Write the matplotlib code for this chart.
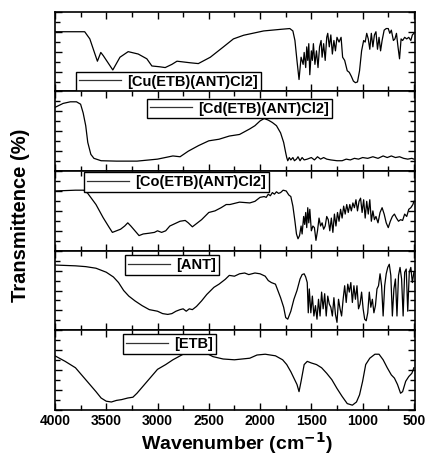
import matplotlib
matplotlib.use("Agg")
import matplotlib.pyplot as plt
from matplotlib.ticker import MultipleLocator

plt.rcParams['font.family'] = ['Liberation Sans', 'DejaVu Sans']
plt.rcParams['font.weight'] = 'bold'

# Spectra (wavenumber cm-1, transmittance in arbitrary panel units)
cu_wn = [4000, 3710, 3660, 3610, 3586, 3553, 3529, 3436, 3366, 3286, 3188, 3104, 3055, 2980, 2925,
         2860, 2810, 2680, 2602, 2485, 2357, 2260, 2160, 1965, 1800, 1710, 1680, 1660, 1640, 1620,
         1600, 1580, 1570, 1555, 1545, 1535, 1525, 1515, 1500, 1490, 1480, 1465, 1450, 1435, 1420,
         1405, 1395, 1380, 1365, 1350, 1340, 1325, 1310, 1295, 1280, 1265, 1250, 1230, 1210, 1195,
         1175, 1150, 1130, 1110, 1090, 1070, 1050, 1030, 1010, 990, 975, 960, 945, 930, 915, 900,
         885, 870, 855, 840, 825, 810, 790, 770, 750, 735, 720, 700, 685, 670, 655, 640, 625, 610,
         590, 570, 550, 530, 515, 500]
cu_t = [75, 75, 66, 47, 38, 49, 45, 27, 43, 50, 47, 41, 32, 31, 30,
        34, 38, 36, 35, 43, 56, 66, 70.6, 76, 78, 79, 76, 64, 38.6, 15,
        43, 34, 49, 30, 56, 39, 60, 21, 51, 39, 60, 34, 51, 30, 56,
        64, 43, 60, 39, 68, 73, 56, 71, 47, 64, 51, 68, 62, 68, 43,
        39, 26, 24, 19, 13, 11, 12, 26, 51, 64, 62, 73, 66, 53, 73, 56,
        71, 75, 53, 68, 51, 64, 77, 79, 79, 73, 77, 64, 66, 73, 56, 41, 66, 64,
        68, 66, 68, 64, 71, 73]

cd_wn = [4000, 3920, 3850, 3790, 3750, 3725, 3700, 3680, 3650, 3620, 3550, 3400, 3200, 3000, 2850,
         2780, 2700, 2600, 2500, 2400, 2300, 2200, 2100, 2050, 2000, 1960, 1920, 1880, 1840, 1800,
         1770, 1750, 1740, 1730, 1715, 1700, 1680, 1665, 1645, 1630, 1610, 1590, 1570, 1540, 1500,
         1470, 1440, 1410, 1380, 1350, 1310, 1250, 1200, 1160, 1120, 1080, 1040, 1000, 950, 900,
         850, 800, 760, 720, 680, 640, 600, 560, 520, 500]
cd_t = [80, 85, 87, 87, 84, 73, 57, 36, 21, 16, 13, 12.5, 12.5, 15, 19,
        18, 25, 32, 38, 40, 44, 46, 53, 57, 63, 66, 64, 61, 57, 48,
        36, 23, 17, 13, 17, 14, 17, 13, 15, 18, 13, 17, 14, 15, 17,
        14, 18, 15, 17, 15, 14, 13, 13, 15, 14, 16, 15, 17, 16, 18,
        16, 19, 17, 19, 17, 18, 16, 15, 16, 15]

co_wn = [4000, 3800, 3720, 3680, 3600, 3530, 3470, 3440, 3400, 3360, 3320, 3290, 3260, 3220, 3180,
         3140, 3080, 3030, 3000, 2960, 2920, 2880, 2830, 2780, 2730, 2700, 2660, 2620, 2570, 2500,
         2440, 2380, 2330, 2294, 2200, 2100, 2050, 2000, 1960, 1940, 1920, 1900, 1880, 1860, 1840,
         1820, 1800, 1775, 1745, 1720, 1700, 1680, 1660, 1645, 1630, 1615, 1600, 1590, 1575, 1565,
         1555, 1545, 1535, 1525, 1515, 1500, 1485, 1470, 1455, 1440, 1425, 1410, 1395, 1380, 1365,
         1350, 1335, 1320, 1305, 1290, 1275, 1260, 1245, 1230, 1215, 1200, 1185, 1170, 1155, 1140,
         1125, 1110, 1095, 1080, 1065, 1050, 1035, 1020, 1005, 990, 975, 960, 945, 930, 915,
         900, 885, 870, 850, 830, 810, 790, 770, 750, 730, 710, 690, 670, 650, 630,
         610, 590, 570, 550, 530, 510, 500]
co_t = [75, 76, 76, 72, 58, 41.5, 29, 23, 25, 27, 31, 35, 31, 25, 19,
        21, 22, 23, 25, 23, 25, 31, 34, 37, 38, 35, 30, 34, 39, 48,
        50, 54, 58, 58, 61, 60, 62, 67, 68, 67, 71, 69, 73, 71, 74,
        72, 73, 76, 75, 70, 68, 56, 37, 21, 15, 19, 31, 21, 43, 33,
        48, 29, 54, 35, 52, 25, 31, 29, 13, 25, 41, 31, 35, 27, 31,
        43, 39, 25, 41, 23, 46, 31, 48, 37, 52, 41, 56, 46, 58, 48,
        58, 50, 60, 54, 64, 50, 62, 66, 48, 64, 41, 62, 46, 64, 37,
        50, 39, 43, 35, 48, 54, 46, 35, 29, 37, 43, 46, 41, 37, 39,
        38, 46, 43, 52, 54, 58, 62]

ant_wn = [4000, 3800, 3700, 3600, 3500, 3430, 3380, 3330, 3280, 3220, 3150, 3080, 3000, 2950, 2900,
          2860, 2820, 2780, 2750, 2720, 2690, 2660, 2620, 2570, 2520, 2450, 2400, 2340, 2300, 2250,
          2200, 2150, 2110, 2080, 2050, 2000, 1950, 1920, 1890, 1850, 1800, 1770, 1750, 1730, 1700,
          1670, 1640, 1610, 1590, 1570, 1555, 1540, 1530, 1520, 1505, 1490, 1475, 1460, 1445, 1430,
          1415, 1400, 1385, 1370, 1355, 1340, 1325, 1310, 1295, 1280, 1265, 1250, 1235, 1220, 1205,
          1190, 1175, 1160, 1145, 1130, 1115, 1100, 1085, 1070, 1055, 1040, 1025, 1010, 995, 980,
          965, 950, 935, 920, 905, 890, 875, 860, 845, 830, 815, 800, 785, 770, 755,
          740, 725, 710, 695, 680, 665, 650, 635, 620, 605, 590, 575, 560, 545, 530,
          515, 500]
ant_t = [82, 81, 80, 78, 73, 67, 60, 50, 43, 37, 31, 26, 24, 21, 20,
         21, 24, 26, 27, 24, 27, 26, 30, 37, 45, 54, 58, 64, 69, 68,
         71, 72, 70, 71, 72, 71, 68, 62.5, 60, 58, 41, 29, 16, 14, 24,
         39, 50, 64.5, 70, 71, 67, 60, 22, 52, 22, 43, 18, 31, 14, 39,
         18, 48, 27, 46, 18, 43, 33, 29, 18, 41, 20, 10, 39, 27, 18,
         39, 56, 35, 58, 48, 60, 35, 56, 39, 56, 27, 33, 48, 27, 14,
         12, 22, 48, 29, 39, 22, 31, 52, 56, 71, 56, 18, 56, 71, 79,
         83, 69, 18, 52, 64.5, 18, 69, 79, 64.5, 18, 73, 77, 24, 73, 79,
         60, 73]

etb_wn = [4000, 3900, 3800, 3700, 3600, 3550, 3500, 3450, 3400, 3350, 3290, 3240, 3200, 3100, 3000,
          2920, 2850, 2750, 2650, 2550, 2460, 2360, 2250, 2100, 2030, 1950, 1850, 1780, 1740, 1700,
          1670, 1640, 1620, 1600, 1570, 1540, 1500, 1450, 1400, 1350, 1300, 1250, 1200, 1150, 1100,
          1060, 1030, 1000, 970, 930, 880, 840, 800, 760, 720, 690, 660, 630, 610, 580,
          550, 520, 500]
etb_t = [68, 61, 53, 38, 23, 15, 11, 10, 12, 13, 15, 16, 21, 36, 51,
         57, 63, 70, 72, 73, 67, 64, 63, 65, 69, 70, 68, 63, 57, 48,
         40, 32, 23, 36, 57, 61, 59, 57, 53, 46, 38, 27, 17, 8, 6,
         10, 19, 36, 57, 65, 70, 70, 63, 53, 44, 40, 32, 21, 23, 36,
         42, 46, 53]

panels = [
    (cu_wn, cu_t, '[Cu(ETB)(ANT)Cl2]', 'lower left', (0.058, 0.0)),
    (cd_wn, cd_t, '[Cd(ETB)(ANT)Cl2]', 'upper left', (0.256, 0.91)),
    (co_wn, co_t, '[Co(ETB)(ANT)Cl2]', 'upper left', (0.08, 0.99)),
    (ant_wn, ant_t, '[ANT]', 'upper left', (0.194, 0.94)),
    (etb_wn, etb_t, '[ETB]', 'upper left', (0.189, 0.95)),
]

fig = plt.figure(figsize=(4.26, 4.55), dpi=100)
gs = fig.add_gridspec(5, 1, left=0.129, right=0.974, bottom=0.099, top=0.974, hspace=0)
axes = [fig.add_subplot(gs[i]) for i in range(5)]

for ax, (wn, t, name, loc, anchor) in zip(axes, panels):
    ax.plot(wn, t, color='black', lw=0.9, label=name)
    ax.set_xlim(4000, 490)
    ax.set_ylim(0, 100)
    ax.xaxis.set_major_locator(MultipleLocator(500))
    ax.xaxis.set_minor_locator(MultipleLocator(250))
    ax.yaxis.set_major_locator(MultipleLocator(25))
    ax.yaxis.set_minor_locator(MultipleLocator(12.5))
    ax.tick_params(which='both', direction='in', top=True, right=True, width=1.0)
    ax.tick_params(which='major', length=5)
    ax.tick_params(which='minor', length=3.5)
    ax.set_yticklabels([])
    for sp in ax.spines.values():
        sp.set_linewidth(1.2)
    leg = ax.legend(loc=loc, bbox_to_anchor=anchor, borderaxespad=0, fancybox=False,
                    framealpha=1, edgecolor='black', handlelength=2.9,
                    handletextpad=0.4, borderpad=0.2, prop={'weight': 'bold', 'size': 10.5})
    leg.get_frame().set_linewidth(1.0)
    leg.get_lines()[0].set_color('#333333')

for ax in axes[:-1]:
    ax.set_xticklabels([])

axes[-1].tick_params(axis='x', labelsize=10, pad=3)
for lab in axes[-1].get_xticklabels():
    lab.set_fontweight('bold')

fig.text(0.556, 0.026, 'Wavenumber (cm$^{\\mathbf{-1}}$)', fontsize=14, fontweight='bold',
         ha='center', va='center')
fig.text(0.047, 0.527, 'Transmittence (%)', rotation=90, fontsize=14.5, fontweight='bold',
         ha='center', va='center')

plt.savefig('out.png', dpi=100)
